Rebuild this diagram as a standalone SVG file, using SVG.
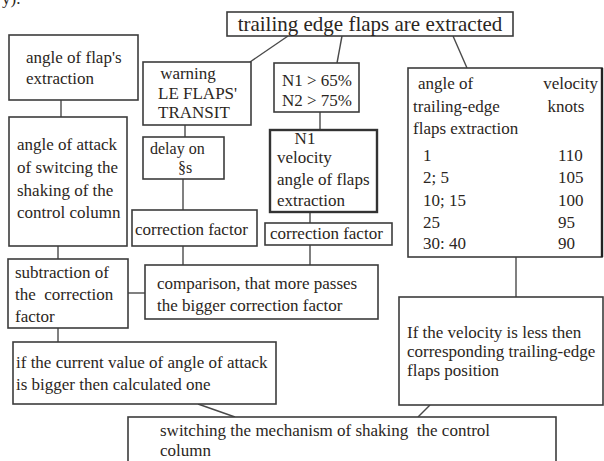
<svg xmlns="http://www.w3.org/2000/svg" width="604" height="461" viewBox="0 0 604 461">
<style>
  text { font-family: "Liberation Serif", "Times New Roman", serif; font-size: 17px; fill: #2b2622; }
  .title { font-size: 21px; }
  .small { font-size: 16px; }
  .box { fill: #ffffff; stroke: #3c3c3c; stroke-width: 1.6; }
  .thick { fill: #ffffff; stroke: #333333; stroke-width: 2.4; }
  .conn line { stroke: #4a4a4a; stroke-width: 1.4; }
  .mid { text-anchor: middle; }
  .end { text-anchor: end; }
</style>
<rect x="0" y="0" width="604" height="461" fill="#ffffff"/>
<text x="2" y="4">y).</text>

<g class="conn">
  <line x1="288" y1="36" x2="250" y2="62"/>
  <line x1="342" y1="36" x2="337" y2="63"/>
  <line x1="453" y1="36" x2="467" y2="68"/>
  <line x1="61" y1="100" x2="61" y2="117"/>
  <line x1="185" y1="125" x2="185" y2="137"/>
  <line x1="320" y1="112" x2="320" y2="130"/>
  <line x1="183" y1="179" x2="183" y2="210"/>
  <line x1="310" y1="212" x2="310" y2="223"/>
  <line x1="183" y1="246" x2="183" y2="265"/>
  <line x1="310" y1="245" x2="310" y2="265"/>
  <line x1="58" y1="246" x2="58" y2="259"/>
  <line x1="128" y1="293" x2="145" y2="293"/>
  <line x1="58" y1="328" x2="58" y2="342"/>
  <line x1="516" y1="257" x2="516" y2="297"/>
  <line x1="198" y1="404" x2="235" y2="417"/>
  <line x1="430" y1="405" x2="418" y2="417"/>
</g>

<g id="n-top">
  <rect class="box" x="227" y="12" width="286" height="24"/>
  <text class="title mid" x="370" y="31">trailing edge flaps are extracted</text>
</g>

<g id="n-flap-angle">
  <rect class="box" x="9" y="35" width="129" height="65"/>
  <text x="26" y="63">angle of flap's</text>
  <text x="26" y="84">extraction</text>
</g>

<g id="n-warning">
  <rect class="box" x="143" y="62" width="108" height="63"/>
  <text class="mid" x="188" y="79">warning</text>
  <text x="158" y="99">LE FLAPS'</text>
  <text x="158" y="118">TRANSIT</text>
</g>

<g id="n-n1n2">
  <rect class="box" x="274" y="63" width="85" height="49"/>
  <text x="282" y="86">N1 &gt; 65%</text>
  <text x="282" y="106">N2 &gt; 75%</text>
</g>

<g id="n-table">
  <rect class="box" x="408" y="68" width="194" height="189"/>
  <line x1="602" y1="68" x2="602" y2="257" stroke="#222" stroke-width="2.4"/>
  <text x="418" y="89">angle of</text>
  <text class="end" x="598" y="89">velocity</text>
  <text x="413" y="112">trailing-edge</text>
  <text class="mid" x="566" y="112">knots</text>
  <text x="413" y="134">flaps extraction</text>
  <text x="423" y="161">1</text>
  <text x="558" y="161">110</text>
  <text x="423" y="183">2; 5</text>
  <text x="558" y="183">105</text>
  <text x="423" y="206">10; 15</text>
  <text x="558" y="206">100</text>
  <text x="423" y="228">25</text>
  <text x="558" y="228">95</text>
  <text x="423" y="249">30: 40</text>
  <text x="558" y="249">90</text>
</g>

<g id="n-attack-angle">
  <rect class="box" x="9" y="117" width="118" height="129"/>
  <text x="17" y="150">angle of attack</text>
  <text x="17" y="173">of switcing the</text>
  <text x="17" y="196">shaking of the</text>
  <text x="17" y="218">control column</text>
</g>

<g id="n-delay">
  <rect class="box" x="143" y="137" width="81" height="42"/>
  <text class="small" x="150" y="154">delay on</text>
  <text class="small mid" x="185" y="173">§s</text>
</g>

<g id="n-n1-velocity">
  <rect class="thick" x="270" y="130" width="107" height="82"/>
  <text class="mid" x="305" y="144">N1</text>
  <text x="277" y="163">velocity</text>
  <text x="277" y="185">angle of flaps</text>
  <text x="277" y="206">extraction</text>
</g>

<g id="n-corr-left">
  <rect class="box" x="132" y="210" width="125" height="36"/>
  <text x="135" y="235">correction factor</text>
</g>

<g id="n-corr-right">
  <rect class="box" x="265" y="223" width="127" height="22"/>
  <text x="270" y="239">correction factor</text>
</g>

<g id="n-subtraction">
  <rect class="box" x="8" y="259" width="120" height="69"/>
  <text x="15" y="278">subtraction of</text>
  <text x="15" y="300" xml:space="preserve">the  correction</text>
  <text x="15" y="322">factor</text>
</g>

<g id="n-comparison">
  <rect class="box" x="145" y="265" width="233" height="54"/>
  <text x="157" y="289">comparison, that more passes</text>
  <text x="157" y="311">the bigger correction factor</text>
</g>

<g id="n-current">
  <rect class="box" x="13" y="342" width="263" height="62"/>
  <text x="16" y="368">if the current value of angle of attack</text>
  <text x="16" y="390">is bigger then calculated one</text>
</g>

<g id="n-velocity-less">
  <rect class="box" x="399" y="297" width="204" height="108"/>
  <text x="407" y="338">If the velocity is less then</text>
  <text x="407" y="357">corresponding trailing-edge</text>
  <text x="407" y="376">flaps position</text>
</g>

<g id="n-switching">
  <rect class="box" x="128" y="417" width="428" height="60"/>
  <text x="160" y="436" xml:space="preserve">switching the mechanism of shaking  the control</text>
  <text x="160" y="456">column</text>
</g>
</svg>
